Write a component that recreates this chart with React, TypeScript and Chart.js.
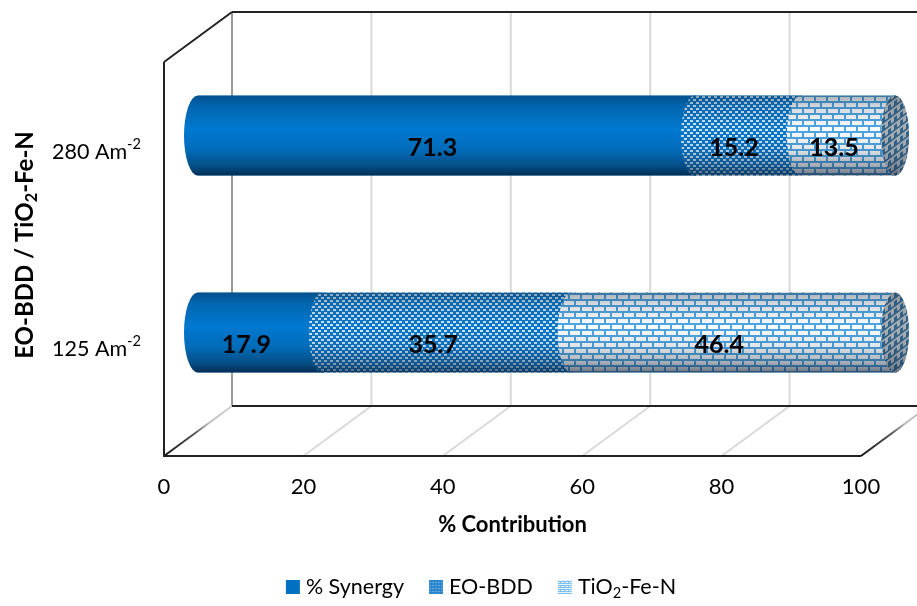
import React, { useEffect, useRef } from "react";
import { Chart, registerables } from "chart.js";

Chart.register(...registerables);

const categories = ["280 Am⁻²", "125 Am⁻²"];
const synergy = [71.3, 17.9];
const eoBdd = [15.2, 35.7];
const tioFeN = [13.5, 46.4];
const seriesNames = ["% Synergy", "EO-BDD", "TiO₂-Fe-N"];
const xTitle = "% Contribution";
const yTitle = "EO-BDD / TiO₂-Fe-N";

const FONT = "Lato, 'Noto Sans', sans-serif";
const DEPTH_X = 68;
const DEPTH_Y = 50;
const RX = 14;

function richRuns(text: string) {
  const runs: { t: string; kind: "n" | "sup" | "sub" }[] = [];
  text.split(/(⁻²|₂)/).forEach((p) => {
    if (!p) return;
    if (p === "⁻²") runs.push({ t: "-2", kind: "sup" });
    else if (p === "₂") runs.push({ t: "2", kind: "sub" });
    else runs.push({ t: p, kind: "n" });
  });
  return runs;
}
function fontFor(size: number, bold: boolean) {
  return `${bold ? "bold " : ""}${size}px ${FONT}`;
}
function richWidth(ctx: CanvasRenderingContext2D, text: string, size: number, bold: boolean) {
  let w = 0;
  richRuns(text).forEach((r) => {
    ctx.font = fontFor(r.kind === "n" ? size : size * 0.68, bold);
    w += ctx.measureText(r.t).width;
  });
  return w;
}
function drawRich(
  ctx: CanvasRenderingContext2D,
  text: string,
  x: number,
  y: number,
  size: number,
  bold: boolean,
  align: "left" | "right" | "center"
) {
  const total = richWidth(ctx, text, size, bold);
  let cx = align === "left" ? x : align === "right" ? x - total : x - total / 2;
  ctx.textAlign = "left";
  ctx.textBaseline = "middle";
  ctx.fillStyle = "#000";
  richRuns(text).forEach((r) => {
    ctx.font = fontFor(r.kind === "n" ? size : size * 0.68, bold);
    const dy = r.kind === "sup" ? -size * 0.36 : r.kind === "sub" ? size * 0.3 : 0;
    ctx.fillText(r.t, cx, y + dy);
    cx += ctx.measureText(r.t).width;
  });
}

function tile(w: number, h: number, paint: (c: CanvasRenderingContext2D) => void) {
  const cv = document.createElement("canvas");
  cv.width = w;
  cv.height = h;
  paint(cv.getContext("2d") as CanvasRenderingContext2D);
  return cv;
}
const dotTile = () =>
  tile(6, 6, (c) => {
    c.fillStyle = "#0F78C8";
    c.fillRect(0, 0, 6, 6);
    c.fillStyle = "#C8E7FC";
    c.fillRect(0, 0, 3, 2);
    c.fillRect(3, 3, 3, 2);
  });
const brickTile = () =>
  tile(12, 12, (c) => {
    c.fillStyle = "#4FA6E2";
    c.fillRect(0, 0, 12, 12);
    c.fillStyle = "#FBFDFF";
    c.fillRect(0, 1, 10, 4);
    c.fillRect(6, 7, 6, 4);
    c.fillRect(0, 7, 4, 4);
  });

function shade(ctx: CanvasRenderingContext2D, top: number, h: number, strength = 1) {
  const g = ctx.createLinearGradient(0, top, 0, top + h);
  g.addColorStop(0, `rgba(10,25,45,${0.42 * strength})`);
  g.addColorStop(0.14, `rgba(10,25,45,${0.2 * strength})`);
  g.addColorStop(0.42, "rgba(10,25,45,0)");
  g.addColorStop(0.68, `rgba(10,25,45,${0.14 * strength})`);
  g.addColorStop(0.88, `rgba(10,25,45,${0.45 * strength})`);
  g.addColorStop(1, `rgba(5,15,35,${0.72 * strength})`);
  return g;
}

function segmentPath(ctx: CanvasRenderingContext2D, x0: number, x1: number, cy: number, ry: number) {
  ctx.beginPath();
  ctx.moveTo(x0, cy - ry);
  ctx.lineTo(x1, cy - ry);
  ctx.ellipse(x1, cy, RX, ry, 0, -Math.PI / 2, Math.PI / 2);
  ctx.lineTo(x0, cy + ry);
  ctx.ellipse(x0, cy, RX, ry, 0, Math.PI / 2, (Math.PI * 3) / 2);
  ctx.closePath();
}

function line(ctx: CanvasRenderingContext2D, x0: number, y0: number, x1: number, y1: number, color: string | CanvasGradient, w = 2) {
  ctx.beginPath();
  ctx.moveTo(x0, y0);
  ctx.lineTo(x1, y1);
  ctx.strokeStyle = color;
  ctx.lineWidth = w;
  ctx.stroke();
}

const cylinderPlugin = {
  id: "cylinder3d",
  beforeDatasetsDraw(chart: any) {
    const { ctx, chartArea: a, scales } = chart;
    const xs = scales.x;
    ctx.save();
    const backTop = a.top - DEPTH_Y;
    const backBottom = a.bottom - DEPTH_Y;
    xs.ticks.forEach((t: any, i: number) => {
      const px = xs.getPixelForValue(t.value);
      if (i > 0) {
        line(ctx, px + DEPTH_X, backTop, px + DEPTH_X, backBottom, "#D9D9D9");
        if (i < xs.ticks.length - 1) line(ctx, px, a.bottom, px + DEPTH_X, backBottom, "#D9D9D9");
      }
    });
    line(ctx, a.left + DEPTH_X, backTop, a.left + DEPTH_X, backBottom, "#9A9A9A");
    [a.left, a.right].forEach((px: number) => {
      const g = ctx.createLinearGradient(px, a.bottom, px + DEPTH_X, backBottom);
      g.addColorStop(0, "#111");
      g.addColorStop(0.45, "#555");
      g.addColorStop(0.65, "#BBB");
      g.addColorStop(1, "#D0D0D0");
      line(ctx, px, a.bottom, px + DEPTH_X, backBottom, g);
    });
    line(ctx, a.left + DEPTH_X, backBottom, chart.width, backBottom, "#222");
    line(ctx, a.left + DEPTH_X, backTop, chart.width, backTop, "#222");
    line(ctx, a.left, a.top, a.left + DEPTH_X, backTop, "#222");
    line(ctx, a.left, a.top, a.left, a.bottom + 1, "#222");
    line(ctx, a.left - 1, a.bottom, a.right, a.bottom, "#222");
    ctx.restore();
  },
  beforeDatasetDraw() {
    return false;
  },
  afterDatasetsDraw(chart: any) {
    const { ctx } = chart;
    const ox = DEPTH_X / 2;
    const oy = DEPTH_Y / 2;
    const dots = ctx.createPattern(dotTile(), "repeat");
    const bricks = ctx.createPattern(brickTile(), "repeat");
    const capBricks = ctx.createPattern(
      tile(6, 8, (c) => {
        c.fillStyle = "#D5DBE0";
        c.fillRect(0, 0, 6, 8);
        c.fillStyle = "#2F6E9E";
        c.fillRect(0, 0, 6, 2);
        c.fillRect(0, 4, 3, 4);
      }),
      "repeat"
    );
    capBricks.setTransform(new DOMMatrix([1, -0.75, 0, 1, 0, 0]));
    const fills = ["#0079D0", dots, bricks];
    ctx.save();
    categories.forEach((_c, row) => {
      chart.data.datasets.forEach((_d: any, di: number) => {
        const el = chart.getDatasetMeta(di).data[row];
        const p = el.getProps(["x", "base", "y", "height"], true);
        const cy = p.y - oy;
        const ry = p.height / 2;
        const x0 = p.base + ox;
        const x1 = p.x + ox;
        segmentPath(ctx, x0, x1, cy, ry);
        ctx.fillStyle = fills[di];
        ctx.fill();
        ctx.fillStyle = shade(ctx, cy - ry, ry * 2, di === 0 ? 1 : 0.8);
        ctx.fill();
        if (di === chart.data.datasets.length - 1) {
          ctx.beginPath();
          ctx.ellipse(x1, cy, RX, ry, 0, 0, Math.PI * 2);
          ctx.fillStyle = capBricks;
          ctx.fill();
          ctx.fillStyle = "rgba(70,80,90,0.3)";
          ctx.fill();
          ctx.fillStyle = shade(ctx, cy - ry, ry * 2, 0.5);
          ctx.fill();
        }
      });
      chart.data.datasets.forEach((d: any, di: number) => {
        const el = chart.getDatasetMeta(di).data[row];
        const p = el.getProps(["x", "base", "y"], true);
        const mid = (p.x + p.base) / 2 + ox - RX;
        ctx.font = fontFor(25, true);
        ctx.fillStyle = "#000";
        ctx.textAlign = "center";
        ctx.textBaseline = "middle";
        ctx.fillText(d.data[row].toFixed(1), mid, p.y - oy + 12);
      });
    });
    ctx.restore();
  },
  afterDraw(chart: any) {
    const { ctx, scales } = chart;
    const ys = scales.y;
    ctx.save();
    categories.forEach((c, i) => {
      drawRich(ctx, c, 141, ys.getPixelForValue(i) - 8, 21.5, false, "right");
    });
    ctx.save();
    ctx.translate(25, 245);
    ctx.rotate(-Math.PI / 2);
    drawRich(ctx, yTitle, 0, 0, 24, true, "center");
    ctx.restore();

    const size = 21.5;
    const swatch = 14;
    const gapA = 6;
    const gapB = 25;
    const widths = seriesNames.map((n) => richWidth(ctx, n, size, false));
    const total = widths.reduce((s, w) => s + w + swatch + gapA, 0) + gapB * (seriesNames.length - 1);
    let lx = 481 - total / 2;
    const ly = 587;
    const legendFill = [
      "#0070C0",
      ctx.createPattern(tile(3, 3, (c) => {
        c.fillStyle = "#2C86CC";
        c.fillRect(0, 0, 3, 3);
        c.fillStyle = "#62AAE0";
        c.fillRect(0, 0, 2, 1);
      }), "repeat"),
      ctx.createPattern(tile(4, 4, (c) => {
        c.fillStyle = "#7CC0EE";
        c.fillRect(0, 0, 4, 4);
        c.fillStyle = "#E2F3FC";
        c.fillRect(0, 0, 4, 1);
        c.fillRect(1, 2, 3, 1);
      }), "repeat"),
    ];
    seriesNames.forEach((n, i) => {
      ctx.fillStyle = legendFill[i];
      ctx.fillRect(lx, ly - 7, swatch, swatch);
      drawRich(ctx, n, lx + swatch + gapA, ly, size, false, "left");
      lx += swatch + gapA + widths[i] + gapB;
    });
    ctx.restore();
  },
};

export default function App() {
  const ref = useRef<HTMLCanvasElement>(null);
  useEffect(() => {
    const chart = new Chart(ref.current as HTMLCanvasElement, {
      type: "bar",
      data: {
        labels: categories,
        datasets: [
          { label: seriesNames[0], data: synergy, backgroundColor: "#0070C0" },
          { label: seriesNames[1], data: eoBdd, backgroundColor: "#2F8FD6" },
          { label: seriesNames[2], data: tioFeN, backgroundColor: "#9CCFF0" },
        ],
      },
      options: {
        indexAxis: "y",
        responsive: false,
        animation: false,
        layout: { padding: { left: 164, right: 56, top: 62, bottom: 68 } },
        datasets: { bar: { barPercentage: 0.406, categoryPercentage: 1 } },
        plugins: { legend: { display: false }, tooltip: { enabled: false } },
        scales: {
          x: {
            stacked: true,
            min: 0,
            max: 100,
            grid: { display: false },
            border: { display: false },
            ticks: {
              stepSize: 20,
              autoSkip: false,
              maxRotation: 0,
              padding: 10,
              color: "#000",
              font: { family: FONT, size: 22 },
            },
            title: {
              display: true,
              text: xTitle,
              color: "#000",
              font: { family: FONT, size: 22, weight: "bold" },
              padding: { top: 10, bottom: 0 },
            },
            afterFit: (s: any) => {
              s.height = 82;
            },
          },
          y: {
            stacked: true,
            grid: { display: false },
            border: { display: false },
            ticks: { display: false },
            afterFit: (s: any) => {
              s.width = 0;
            },
          },
        },
      },
      plugins: [cylinderPlugin],
    } as any);
    return () => chart.destroy();
  }, []);
  return (
    <div style={{ position: "absolute", left: 0, top: 0, width: 917, height: 606, background: "#fff" }}>
      <canvas ref={ref} width={917} height={606} style={{ display: "block" }} />
    </div>
  );
}
